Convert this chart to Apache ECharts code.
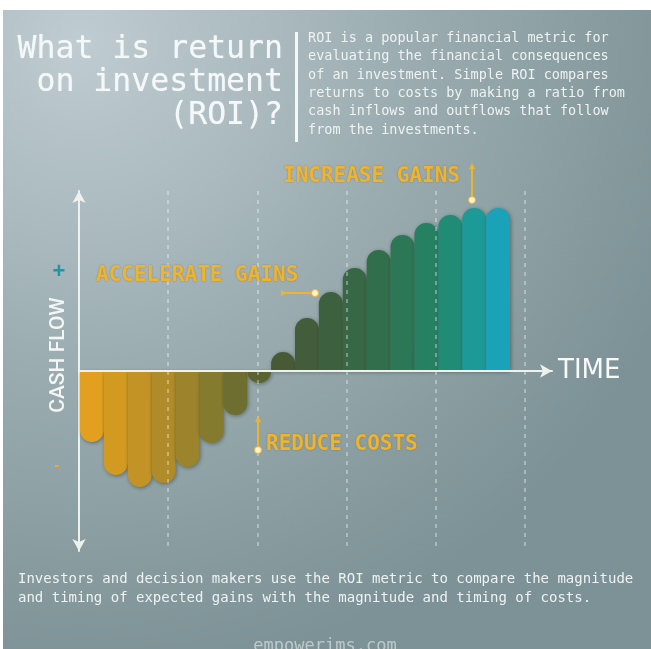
<!DOCTYPE html>
<html>
<head>
<meta charset="utf-8">
<title>ROI</title>
<script src="https://cdn.jsdelivr.net/npm/echarts@6/dist/echarts.min.js"></script>
<style>
    html, body { margin: 0; padding: 0; background: #fff; }
    #roiChart { width: 651px; height: 649px; }
</style>
</head>
<body>
<div id="roiChart"></div>
<script>
// periods on the time axis and the cash flow in each one
var periods = ['1', '2', '3', '4', '5', '6', '7', '8', '9', '10', '11', '12', '13', '14', '15', '16', '17', '18'];
var cashFlow = [-7.1, -10.4, -11.6, -11.2, -9.6, -7.2, -4.4, -1.2, 1.9, 5.3, 7.9, 10.3, 12.1, 13.6, 14.8, 15.6, 16.3, 16.3];

// bar colours, orange (costs) -> green -> cyan (gains)
var barColors = ['#e3a020', '#d39a22', '#c49326', '#b08b29', '#9b842c', '#857b2e', '#6e6e30', '#5a6433',
    '#485a35', '#435c39', '#3d613e', '#376744', '#316e4c', '#2b7756', '#258161', '#208c76', '#1c9a98', '#1aa2b8'];

var gold = '#f0b32c';
var mono = '"DejaVu Sans Mono", "Liberation Mono", monospace';

var barData = [];
for (var i = 0; i < cashFlow.length; i++) {
    barData.push({
        value: cashFlow[i],
        itemStyle: {
            color: barColors[i],
            borderRadius: cashFlow[i] >= 0 ? [12, 12, 0, 0] : [0, 0, 12, 12]
        }
    });
}

// little pointer used by the three notes: line + dot + arrow head
function pointer(x1, y1, x2, y2, arrowRot) {
    return [{
        type: 'line',
        shape: {x1: x1, y1: y1, x2: x2, y2: y2},
        style: {stroke: gold, lineWidth: 2},
        z: 10
    }, {
        type: 'circle',
        shape: {cx: x2, cy: y2, r: 3.5},
        style: {fill: '#fbf3d0', stroke: gold, lineWidth: 1},
        z: 11
    }, {
        type: 'polygon',
        x: x1, y: y1,
        rotation: arrowRot,
        shape: {points: [[0, -4], [-3, 2], [3, 2]]},
        style: {fill: gold},
        z: 10
    }];
}

function note(text, x, y) {
    return {
        type: 'text',
        x: x, y: y,
        style: {
            text: text,
            fill: gold,
            font: 'bold 21px ' + mono,
            verticalAlign: 'middle',
            textShadowColor: 'rgba(60,50,20,0.35)',
            textShadowBlur: 2
        },
        z: 10
    };
}

var graphics = [{
    type: 'rect',
    shape: {x: 3, y: 10, width: 648, height: 639},
    style: {
        fill: new echarts.graphic.RadialGradient(0.12, 0.05, 1.0, [
            {offset: 0, color: '#bfccd1'},
            {offset: 0.55, color: '#98aaae'},
            {offset: 1, color: '#7d9296'}
        ], false)
    },
    z: -100
}, {
    type: 'text',
    x: 283, y: 33,
    style: {
        text: 'What is return\non investment\n(ROI)?',
        fill: '#f5f8f8',
        font: '31.5px ' + mono,
        align: 'right',
        lineHeight: 33,
        textShadowColor: 'rgba(255,255,255,0.5)',
        textShadowBlur: 1
    }
}, {
    type: 'rect',
    shape: {x: 295, y: 32, width: 3, height: 110},
    style: {fill: '#f5f8f8'}
}, {
    type: 'text',
    x: 308, y: 29,
    style: {
        text: 'ROI is a popular financial metric for\nevaluating the financial consequences\nof an investment. Simple ROI compares\nreturns to costs by making a ratio from\ncash inflows and outflows that follow\nfrom the investments.',
        fill: '#eef2f2',
        font: '13.5px ' + mono,
        lineHeight: 18.4
    }
}, {
    type: 'text',
    x: 18, y: 570,
    style: {
        text: 'Investors and decision makers use the ROI metric to compare the magnitude\nand timing of expected gains with the magnitude and timing of costs.',
        fill: '#eef2f2',
        font: '14px ' + mono,
        lineHeight: 19
    }
}, {
    type: 'text',
    x: 325, y: 638,
    style: {
        text: 'empowerims.com',
        fill: 'rgba(240,245,245,0.55)',
        font: '17px ' + mono,
        align: 'center'
    }
}, {
    type: 'text',
    x: 59, y: 355,
    rotation: Math.PI / 2,
    style: {
        text: 'CASH FLOW',
        fill: '#f4f6f6',
        font: '500 21px Roboto, "Liberation Sans", sans-serif',
        align: 'center',
        verticalAlign: 'middle'
    }
}, {
    type: 'text',
    x: 59, y: 272,
    style: {text: '+', fill: '#1b97ad', font: 'bold 22px "Liberation Sans", sans-serif', align: 'center', verticalAlign: 'middle'}
}, {
    type: 'text',
    x: 57, y: 466,
    style: {text: '-', fill: '#e6a93a', font: 'bold 16px "Liberation Sans", sans-serif', align: 'center', verticalAlign: 'middle'}
}, {
    type: 'text',
    x: 558, y: 371,
    style: {text: 'TIME', fill: '#f7f9f9', font: '26px "DejaVu Sans", sans-serif', verticalAlign: 'middle'}
},
    note('INCREASE GAINS', 283, 177),
    note('ACCELERATE GAINS', 96, 276),
    note('REDUCE COSTS', 266, 445)
].concat(pointer(472, 167, 472, 200, 0))
    .concat(pointer(283, 293, 315, 293, -Math.PI / 2))
    .concat(pointer(258, 420, 258, 450, 0));

var option = {
    backgroundColor: '#ffffff',
    animation: false,
    graphic: graphics,
    grid: [
        // bars
        {left: 80, top: 191, width: 430, height: 360},
        // arrows + dashed guides
        {left: 79, top: 191, width: 473, height: 360}
    ],
    xAxis: [{
        type: 'category',
        gridIndex: 0,
        data: periods,
        axisLine: {show: false},
        axisTick: {show: false},
        axisLabel: {show: false}
    }, {
        type: 'value',
        gridIndex: 1,
        min: 0,
        max: 5.3,
        interval: 1,
        axisLine: {
            onZero: true,
            symbol: ['none', 'arrow'],
            symbolSize: [10, 12],
            lineStyle: {color: '#eef2ea', width: 2}
        },
        axisTick: {show: false},
        axisLabel: {show: false},
        splitLine: {
            show: true,
            showMinLine: false,
            showMaxLine: false,
            lineStyle: {color: 'rgba(255,255,255,0.45)', type: [4, 5], width: 1.5}
        },
        z: 3
    }],
    yAxis: [{
        type: 'value',
        gridIndex: 0,
        min: -18,
        max: 18,
        show: false
    }, {
        type: 'value',
        gridIndex: 1,
        min: -18,
        max: 18,
        axisLine: {
            show: true,
            symbol: ['arrow', 'arrow'],
            symbolSize: [10, 12],
            lineStyle: {color: '#eef2ee', width: 2}
        },
        axisTick: {show: false},
        axisLabel: {show: false},
        splitLine: {show: false}
    }],
    series: [{
        name: 'Cash flow',
        type: 'bar',
        xAxisIndex: 0,
        yAxisIndex: 0,
        barCategoryGap: '0%',
        data: barData,
        itemStyle: {
            shadowColor: 'rgba(25,30,20,0.45)',
            shadowBlur: 4,
            shadowOffsetX: 1,
            shadowOffsetY: 1
        }
    }]
};

var roiChart = echarts.init(document.getElementById('roiChart'));
roiChart.setOption(option);
</script>
</body>
</html>
